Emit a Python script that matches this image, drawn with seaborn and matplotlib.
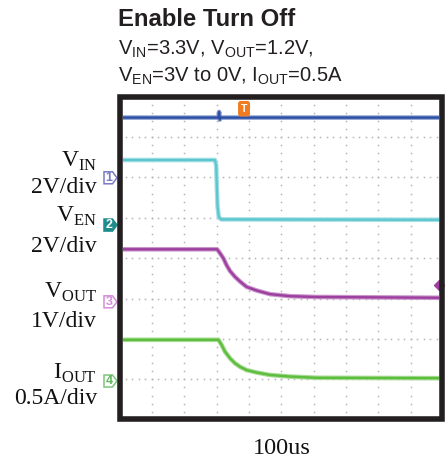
import numpy as np
import pandas as pd
import matplotlib
matplotlib.use("Agg")
import matplotlib.pyplot as plt
import seaborn as sns
from matplotlib.patches import Polygon, Rectangle
from matplotlib.colors import to_rgb

# ---------------- data (oscilloscope divisions) ----------------
# time axis: 100us / div, 10 divisions ; vertical: 8 divisions
vin_t = [0.0, 3.06, 3.08, 3.10, 3.13, 10.0]
vin_v = [7.48, 7.48, 7.62, 7.43, 7.48, 7.48]

ven_t = [0.0, 2.95, 2.99, 3.03, 3.07, 3.14, 10.0]
ven_v = [6.43, 6.43, 6.30, 5.30, 5.02, 4.96, 4.95]

vout_t = [0.0, 3.02, 3.11, 3.21, 3.31, 3.42, 3.57, 3.73, 3.93, 4.24, 4.65, 5.27, 6.09, 10.0]
vout_v = [4.22, 4.22, 4.12, 4.00, 3.83, 3.68, 3.54, 3.42, 3.29, 3.20, 3.11, 3.06, 3.04, 3.02]

iout_t = [0.0, 3.06, 3.16, 3.26, 3.42, 3.57, 3.73, 3.93, 4.24, 4.65, 5.27, 6.09, 10.0]
iout_v = [1.98, 1.98, 1.85, 1.69, 1.52, 1.40, 1.31, 1.23, 1.17, 1.11, 1.07, 1.04, 1.03]

channel_numbers = ["1", "2", "3", "4"]
channel_refs = [5.99, 4.82, 2.92, 0.96]
trace_names = ["V$_{\\mathrm{IN}}$", "V$_{\\mathrm{EN}}$", "V$_{\\mathrm{OUT}}$", "I$_{\\mathrm{OUT}}$"]
scale_labels = ["2V/div", "2V/div", "1V/div", "0.5A/div"]
time_label = "100us"
trigger_time = 3.85
trigger_level = 3.34

title = "Enable Turn Off"
subtitle1 = "V$_{\\mathsf{IN}}$=3.3V, V$_{\\mathsf{OUT}}$=1.2V,"
subtitle2 = "V$_{\\mathsf{EN}}$=3V to 0V, I$_{\\mathsf{OUT}}$=0.5A"

# ---------------- style ----------------
sns.set_style("white")
plt.rcParams["font.family"] = ["Liberation Sans", "DejaVu Sans"]
plt.rcParams["mathtext.fontset"] = "custom"
plt.rcParams["mathtext.rm"] = "Liberation Serif"
plt.rcParams["mathtext.sf"] = "Liberation Sans"

W, H = 447, 459
fig = plt.figure(figsize=(W / 100, H / 100), dpi=100)

def fx(px):
    return px / W

def fy(py):
    return 1 - py / H

# inner screen area in pixels
x0, x1, y0, y1 = 123.3, 439.3, 99.0, 416.0
ax = fig.add_axes([fx(x0), fy(y1), fx(x1) - fx(x0), fy(y0) - fy(y1)])
ax.set_xlim(0.123, 9.877)
ax.set_ylim(0.094, 7.94)
for s in ax.spines.values():
    s.set_visible(False)
ax.set_xticks([])
ax.set_yticks([])

# dotted graticule
gcol = "#b4b4b4"
for gx in range(1, 10):
    ys = np.arange(0, 8.01, 0.2)
    ax.plot([gx] * len(ys), ys, ls="none", marker="s", ms=1.1, mew=0, color=gcol, zorder=1)
for gy in range(1, 8):
    xs = np.arange(0, 10.01, 0.2)
    ax.plot(xs, [gy] * len(xs), ls="none", marker="s", ms=1.1, mew=0, color=gcol, zorder=1)

def lighten(c, f):
    r, g, b = to_rgb(c)
    return (r + (1 - r) * f, g + (1 - g) * f, b + (1 - b) * f)

# traces
traces = [
    (vin_t, vin_v, "#2c4fa6"),
    (ven_t, ven_v, "#5ec6cf"),
    (vout_t, vout_v, "#9c3f9f"),
    (iout_t, iout_v, "#5dbd3d"),
]
for t, v, c in traces:
    df = pd.DataFrame({"t": t, "v": v})
    sns.lineplot(data=df, x="t", y="v", ax=ax, color=lighten(c, 0.45), lw=3.3,
                 estimator=None, sort=False, legend=False, zorder=3)
    sns.lineplot(data=df, x="t", y="v", ax=ax, color=c, lw=1.7,
                 estimator=None, sort=False, legend=False, zorder=4)
ax.set_xlabel("")
ax.set_ylabel("")

# trigger marker (top) and trigger level (right)
ax.text(trigger_time, 7.70, "T", ha="center", va="center", fontsize=7.5, color="white",
        fontweight="bold", zorder=6,
        bbox=dict(boxstyle="round,pad=0.2", fc="#f07c22", ec="#f07c22"))
ax.plot([9.86], [trigger_level], marker="D", ms=5, color="#9c3f9f", clip_on=False, zorder=2)

# thick frame
fig.add_artist(Rectangle((fx(120.2), fy(419.0)), fx(441.6) - fx(120.2), fy(96.5) - fy(419.0),
                         transform=fig.transFigure, fill=False, ec="#231f20", lw=4.0, zorder=10))

# channel markers on left
fig.canvas.draw()
styles = [
    dict(fc="white", ec="#7a7ac6", tc="#7a7ac6"),
    dict(fc="#1e8c8c", ec="#1e8c8c", tc="white"),
    dict(fc="white", ec="#d68ad6", tc="#d68ad6"),
    dict(fc="white", ec="#7cc67c", tc="#5db55d"),
]
for num, ref, st in zip(channel_numbers, channel_refs, styles):
    disp_y = ax.transData.transform((1, ref))[1]
    py = H - disp_y
    pts = [(104.0, py - 6.0), (112.5, py - 6.0), (117.0, py), (112.5, py + 6.0), (104.0, py + 6.0)]
    fig.add_artist(Polygon([(fx(a), fy(b)) for a, b in pts], closed=True,
                           transform=fig.transFigure, fc=st["fc"], ec=st["ec"], lw=1.1, zorder=9))
    fig.text(fx(109.0), fy(py + 0.3), num, ha="center", va="center", fontsize=9,
             color=st["tc"], fontweight="bold", zorder=11)

# left labels (serif)
name_base = [167, 222, 298, 379]
scale_base = [193, 252, 327, 404]
for nm, sc, nb, sb in zip(trace_names, scale_labels, name_base, scale_base):
    fig.text(fx(97), fy(nb), nm, ha="right", va="baseline", fontsize=17,
             family="Liberation Serif", color="#111111")
    fig.text(fx(97), fy(sb), sc, ha="right", va="baseline", fontsize=17,
             family="Liberation Serif", color="#111111")

# bottom time label
fig.text(fx(281.7), fy(453.5), time_label, ha="center", va="baseline", fontsize=17.5,
         family="Liberation Serif", color="#111111")

# title and conditions
fig.text(fx(118), fy(26.5), title, ha="left", va="baseline", fontsize=17.2,
         fontweight="bold", color="#231f20")
fig.text(fx(118), fy(55), subtitle1, ha="left", va="baseline", fontsize=14.5, color="#231f20")
fig.text(fx(118), fy(82), subtitle2, ha="left", va="baseline", fontsize=14.5, color="#231f20")

fig.savefig("out.png", dpi=100, facecolor="white")
